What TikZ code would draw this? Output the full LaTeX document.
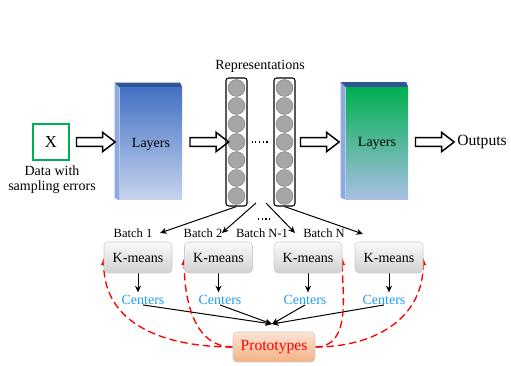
\documentclass[tikz,border=0pt]{standalone}
\usepackage{fontspec}
\setmainfont{Liberation Serif}
\usetikzlibrary{shapes.arrows,arrows.meta}
\pgfdeclarelayer{bg}
\pgfsetlayers{bg,main}
\definecolor{xgreen}{HTML}{00B050}
\definecolor{lblue}{HTML}{4472C4}
\definecolor{lpale}{HTML}{C6D4EE}
\definecolor{lgpale}{HTML}{A9BFE4}
\definecolor{lside}{HTML}{8FAADC}
\definecolor{ltop}{HTML}{2F5597}
\definecolor{ctext}{HTML}{1E9BFF}
\definecolor{ucirc}{HTML}{A6A6A6}
\definecolor{ptop}{HTML}{FCE4D6}
\definecolor{pbot}{HTML}{F4B183}
\tikzset{
    every node/.style={inner sep=0mm, font=\fontsize{10.5}{11.5}\selectfont}
}
\tikzset{
    layerbox/.style={rectangle, minimum width=46.5pt, minimum height=84pt},
    hollow/.style={single arrow, draw, line width=1.1pt, minimum height=29pt,
        single arrow head extend=4pt, inner sep=2.7pt, single arrow tip angle=75},
    column/.style={rectangle, draw, line width=0.8pt, rounded corners=2pt, fill=white,
        minimum width=15.75pt, minimum height=96pt},
    unit/.style={circle, draw=gray, fill=ucirc, minimum size=12.6pt},
    kmbox/.style={rectangle, rounded corners=3pt, draw=black!20, top color=black!2,
        bottom color=black!18, minimum width=51pt, minimum height=23.25pt},
    batch/.style={font=\fontsize{9.4}{10}\selectfont},
    tip/.style={-{Stealth[length=5pt, width=4.5pt]}, line width=0.75pt},
    back/.style={red, dash pattern=on 5.5pt off 3pt, line width=1pt,
        -{Latex[length=5.5pt, width=4.5pt]}}
}

\begin{document}
\begin{tikzpicture}[x=0.75pt, y=0.75pt]
        \useasboundingbox (0,0) rectangle (511,366);
        \node (x) [rectangle, draw=xgreen, line width=1.2pt, minimum size=27pt,
                font=\fontsize{12.5}{13}\selectfont] at (51,224) {X};
        \node (data) [align=center] at (52,186.5) {Data with\\sampling errors};
        \node (lay1) [layerbox, top color=lblue, bottom color=lpale] at (151,222) {Layers};
        \node (lay2) [layerbox, top color=xgreen, bottom color=lgpale] at (377,222.5) {Layers};
        \node (col1) [column] at (236.5,224) {};
        \node (col2) [column] at (284.5,224) {};
        \foreach \k in {0,...,6} {
                \node (ua\k) [unit] at (236.5,{278-18*\k}) {};
                \node (ub\k) [unit] at (284.5,{278-18*\k}) {};
        }
        \node (rep) at (260,300) {Representations};
        \node (a1) [hollow] at (93,224) {};
        \node (a2) [hollow] at (206.5,224) {};
        \node (a3) [hollow] at (317,224) {};
        \node (a4) [hollow] at (432,224) {};
        \node (out) [font=\fontsize{11.7}{13}\selectfont] at (482,224) {Outputs};
        \node (bt1) [batch] at (133,133) {Batch 1};
        \node (bt2) [batch] at (203,133) {Batch 2};
        \node (bt3) [batch] at (262,133) {Batch N-1};
        \node (bt4) [batch] at (324,133) {Batch N};
        \coordinate (b1) at (160,133);
        \coordinate (b2) at (222,133);
        \coordinate (b3) at (295,133);
        \coordinate (b4) at (363,132);
        \coordinate (s2) at (256,163);
        \coordinate (s3) at (266,163);
        \coordinate (d1) at (258,147);
        \coordinate (d2) at (272,147);
        \node (km1) [kmbox] at (138,108.5) {K-means};
        \node (km2) [kmbox] at (218.5,108.5) {K-means};
        \node (km3) [kmbox] at (308,108.5) {K-means};
        \node (km4) [kmbox] at (389,108.5) {K-means};
        \node (c1) [text=ctext] at (143,66) {Centers};
        \node (c2) [text=ctext] at (220,66) {Centers};
        \node (c3) [text=ctext] at (305,66) {Centers};
        \node (c4) [text=ctext] at (384,66) {Centers};
        \node (proto) [rectangle, rounded corners=3pt, draw=black!20, top color=ptop,
                bottom color=pbot, minimum width=61.5pt, minimum height=22.5pt, text=red,
                font=\fontsize{11.7}{13}\selectfont] at (274,19) {Prototypes};
        \coordinate (pin) at (272,42);
        \begin{pgfonlayer}{bg}
                \fill[lside] (lay1.north west) -- ++(-5,5) -- ([shift={(-5,2)}]lay1.south west) -- (lay1.south west) -- cycle;
                \fill[ltop] (lay1.north west) -- ++(-5,5) -- ([shift={(-2,5)}]lay1.north east) -- (lay1.north east) -- cycle;
                \fill[lside] (lay2.north west) -- ++(-5,5) -- ([shift={(-5,2)}]lay2.south west) -- (lay2.south west) -- cycle;
                \fill[ltop] (lay2.north west) -- ++(-5,5) -- ([shift={(-2,5)}]lay2.north east) -- (lay2.north east) -- cycle;
                \draw (col1.east) edge [dotted, thick, shorten <=3pt, shorten >=3pt] (col2.west);
                \draw (d1) edge [dotted, thick] (d2);
                \draw (col1.south) edge [tip] (b1);
                \draw (s2) edge [tip] (b2);
                \draw (s3) edge [tip] (b3);
                \draw (col2.south) edge [tip] (b4);
                \draw (km1.south) edge [tip, shorten >=2pt] (km1.south |- c1.north);
                \draw (km2.south) edge [tip, shorten >=2pt] (km2.south |- c2.north);
                \draw (km3.south) edge [tip, shorten >=2pt] (km3.south |- c3.north);
                \draw (km4.south) edge [tip, shorten >=2pt] (km4.south |- c4.north);
                \draw (c1.south) edge [tip] (pin);
                \draw (c2.south) edge [tip] (pin);
                \draw (c3.south) edge [tip] (pin);
                \draw (c4.south) edge [tip] (pin);
                \draw (proto.west) edge [back, out=180, in=-90, looseness=1.1] (km1.west);
                \draw (proto.west) edge [back, out=180, in=-90] (km2.west);
                \draw (proto.east) edge [back, out=0, in=-90] (km3.east);
                \draw (proto.east) edge [back, out=0, in=-90, looseness=1.1] (km4.east);
        \end{pgfonlayer}
\end{tikzpicture}
\end{document}
